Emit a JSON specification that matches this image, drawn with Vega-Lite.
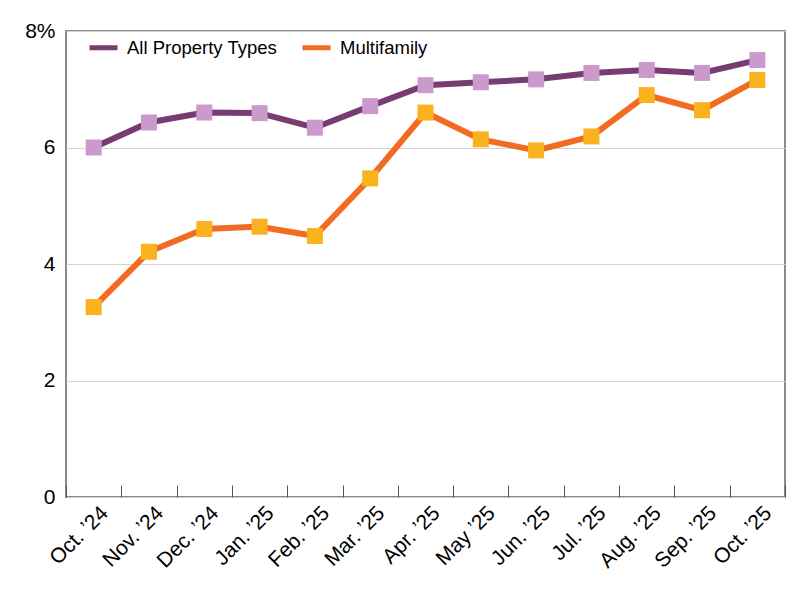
{
  "$schema": "https://vega.github.io/schema/vega-lite/v6.json",
  "autosize": "none",
  "padding": {"left": 66, "top": 31, "right": 15, "bottom": 103},
  "width": 719,
  "height": 466,
  "config": {
    "font": "Liberation Sans",
    "view": {"stroke": "#8a8a8a", "strokeWidth": 2}
  },
  "data": {
    "values": [
      {"month": "Oct. ’24", "series": "All Property Types", "value": 6.0},
      {"month": "Nov. ’24", "series": "All Property Types", "value": 6.43},
      {"month": "Dec. ’24", "series": "All Property Types", "value": 6.6},
      {"month": "Jan. ’25", "series": "All Property Types", "value": 6.59},
      {"month": "Feb. ’25", "series": "All Property Types", "value": 6.34},
      {"month": "Mar. ’25", "series": "All Property Types", "value": 6.71},
      {"month": "Apr. ’25", "series": "All Property Types", "value": 7.07},
      {"month": "May ’25", "series": "All Property Types", "value": 7.12},
      {"month": "Jun. ’25", "series": "All Property Types", "value": 7.17},
      {"month": "Jul. ’25", "series": "All Property Types", "value": 7.28},
      {"month": "Aug. ’25", "series": "All Property Types", "value": 7.33},
      {"month": "Sep. ’25", "series": "All Property Types", "value": 7.28},
      {"month": "Oct. ’25", "series": "All Property Types", "value": 7.5},
      {"month": "Oct. ’24", "series": "Multifamily", "value": 3.26},
      {"month": "Nov. ’24", "series": "Multifamily", "value": 4.21},
      {"month": "Dec. ’24", "series": "Multifamily", "value": 4.6},
      {"month": "Jan. ’25", "series": "Multifamily", "value": 4.64},
      {"month": "Feb. ’25", "series": "Multifamily", "value": 4.48},
      {"month": "Mar. ’25", "series": "Multifamily", "value": 5.47},
      {"month": "Apr. ’25", "series": "Multifamily", "value": 6.6},
      {"month": "May ’25", "series": "Multifamily", "value": 6.14},
      {"month": "Jun. ’25", "series": "Multifamily", "value": 5.95},
      {"month": "Jul. ’25", "series": "Multifamily", "value": 6.19},
      {"month": "Aug. ’25", "series": "Multifamily", "value": 6.9},
      {"month": "Sep. ’25", "series": "Multifamily", "value": 6.64},
      {"month": "Oct. ’25", "series": "Multifamily", "value": 7.16}
    ]
  },
  "encoding": {
    "x": {
      "field": "month",
      "type": "ordinal",
      "sort": null,
      "bandPosition": 0.5,
      "scale": {"type": "band", "paddingInner": 0, "paddingOuter": 0},
      "axis": {
        "title": null,
        "tickBand": "extent",
        "domain": false,
        "grid": false,
        "ticks": true,
        "tickSize": -12,
        "tickColor": "#555555",
        "tickWidth": 1,
        "labelAngle": -45,
        "labelAlign": "right",
        "labelBaseline": "top",
        "labelFontSize": 21,
        "labelColor": "#000000",
        "labelPadding": 17,
        "labelOffset": 3
      }
    },
    "y": {
      "field": "value",
      "type": "quantitative",
      "scale": {"domain": [0, 8]},
      "axis": {
        "title": null,
        "values": [0, 2, 4, 6, 8],
        "labelExpr": "datum.value == 8 ? '8%' : datum.label",
        "domain": false,
        "ticks": false,
        "grid": true,
        "gridColor": "#d3d3d3",
        "gridWidth": 1,
        "labelFontSize": 21,
        "labelColor": "#000000",
        "labelPadding": 11
      }
    }
  },
  "layer": [
    {
      "mark": {"type": "line", "strokeWidth": 6},
      "encoding": {
        "stroke": {
          "field": "series",
          "type": "nominal",
          "scale": {"domain": ["All Property Types", "Multifamily"], "range": ["#773d72", "#f26b22"]},
          "legend": {
            "title": null,
            "orient": "none",
            "legendX": 21,
            "legendY": 0,
            "direction": "horizontal",
            "symbolType": "stroke",
            "symbolStrokeWidth": 5,
            "symbolSize": 784,
            "labelFontSize": 18.5,
            "labelColor": "#000000",
            "columnPadding": 14,
            "labelOffset": 7
          }
        }
      }
    },
    {
      "mark": {"type": "square", "size": 256, "opacity": 1, "filled": true},
      "encoding": {
        "fill": {
          "field": "series",
          "type": "nominal",
          "scale": {"domain": ["All Property Types", "Multifamily"], "range": ["#cc99cc", "#fbb21f"]},
          "legend": null
        }
      }
    }
  ]
}
